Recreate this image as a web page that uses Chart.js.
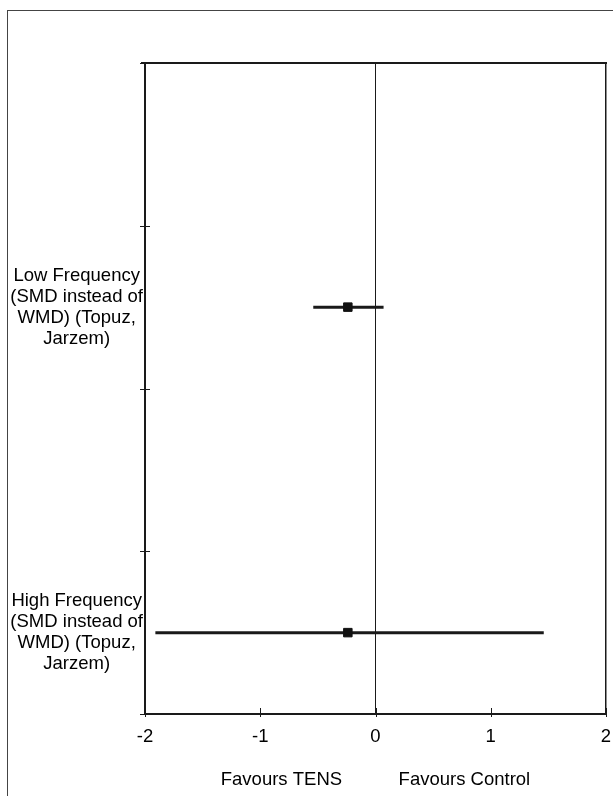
<!DOCTYPE html>
<html>
<head>
<meta charset="utf-8">
<script src="https://cdn.jsdelivr.net/npm/chart.js@4.4.1/dist/chart.umd.min.js"></script>
<style>
  html, body { margin: 0; padding: 0; background: #fff; }
  #wrap { position: relative; width: 613px; height: 796px; overflow: hidden; }
  #frame { position: absolute; left: 7px; top: 10px; width: 700px; height: 900px; border: 1px solid #444; box-sizing: border-box; }
  canvas { position: absolute; left: 0; top: 0; }
</style>
</head>
<body>
<div id="wrap">
  <div id="frame"></div>
  <canvas id="c" width="613" height="796"></canvas>
</div>
<script>
// ---- data ----
const categories = [
  ['Low Frequency', '(SMD instead of', 'WMD) (Topuz,', 'Jarzem)'],
  ['High Frequency', '(SMD instead of', 'WMD) (Topuz,', 'Jarzem)']
];
const rowPos = [2.5, 0.5];
const estimates = [-0.24, -0.24];
const lower = [-0.54, -1.91];
const upper = [0.07, 1.46];
const xTickValues = [-2, -1, 0, 1, 2];
const yTickMarks = [0, 1, 2, 3, 4];
const xTitle = 'Favours TENS           Favours Control';

const FONT = "'Liberation Sans', Arial, sans-serif";

const ciDatasets = categories.map((c, i) => ({
  type: 'scatter',
  data: [{x: lower[i], y: rowPos[i]}, {x: upper[i], y: rowPos[i]}],
  showLine: true,
  borderColor: '#1a1a1a',
  borderWidth: 3,
  pointRadius: 0,
  order: 2
}));

const pointDataset = {
  type: 'scatter',
  data: estimates.map((e, i) => ({x: e, y: rowPos[i]})),
  pointStyle: 'rect',
  pointRadius: 6,
  backgroundColor: '#111',
  borderColor: '#111',
  borderWidth: 1,
  order: 1
};

const framePlugin = {
  id: 'framePlugin',
  afterDraw(chart) {
    const {ctx, chartArea: a, scales} = chart;
    ctx.save();
    ctx.strokeStyle = '#1a1a1a';
    // top frame line
    ctx.lineWidth = 2;
    ctx.beginPath();
    ctx.moveTo(a.left - 4, a.top);
    ctx.lineTo(a.right + 1, a.top);
    ctx.stroke();
    // y tick marks (cross)
    ctx.lineWidth = 1;
    yTickMarks.forEach(v => {
      const y = Math.round(scales.y.getPixelForValue(v)) + 0.5;
      ctx.beginPath();
      ctx.moveTo(a.left - 5, y);
      ctx.lineTo(a.left + 5, y);
      ctx.stroke();
    });
    // x tick marks (cross)
    xTickValues.forEach(v => {
      const x = Math.round(scales.x.getPixelForValue(v)) + 0.5;
      ctx.beginPath();
      ctx.moveTo(x, a.bottom - 6);
      ctx.lineTo(x, a.bottom + 3);
      ctx.stroke();
    });
    ctx.restore();
  }
};

new Chart(document.getElementById('c'), {
  type: 'scatter',
  data: { datasets: [...ciDatasets, pointDataset] },
  options: {
    responsive: false,
    animation: false,
    layout: { padding: { top: 63, right: 6, left: 0, bottom: 0 } },
    plugins: { legend: { display: false }, tooltip: { enabled: false } },
    scales: {
      x: {
        type: 'linear',
        min: -2, max: 2,
        afterBuildTicks: s => { s.ticks = xTickValues.map(v => ({value: v})); },
        afterFit: s => { s.height = 82; s.paddingRight = 0; s.paddingLeft = 0; },
        grid: {
          drawTicks: false,
          drawOnChartArea: true,
          color: c => (c.tick && (c.tick.value === 0 || c.tick.value === 2)) ? '#1a1a1a' : 'rgba(0,0,0,0)',
          lineWidth: c => (c.tick && c.tick.value === 2) ? 1.5 : 1
        },
        border: { display: true, color: '#1a1a1a', width: 2 },
        ticks: { color: '#000', font: { family: FONT, size: 18.5 }, padding: 12 },
        title: { display: true, text: xTitle, color: '#000', font: { family: FONT, size: 18.5 }, padding: { top: 0, bottom: 5 } }
      },
      y: {
        type: 'linear',
        min: 0, max: 4,
        afterBuildTicks: s => { s.ticks = rowPos.map(v => ({value: v})); },
        afterFit: s => { s.width = 145; s.paddingTop = 0; s.paddingBottom = 0; },
        grid: { display: false, drawTicks: false },
        border: { display: true, color: '#1a1a1a', width: 2 },
        ticks: {
          color: '#000',
          font: { family: FONT, size: 18.5, lineHeight: 1.13 },
          padding: 2,
          crossAlign: 'center',
          callback: v => { const i = rowPos.indexOf(v); return i >= 0 ? categories[i] : ''; }
        }
      }
    }
  },
  plugins: [framePlugin]
});
</script>
</body>
</html>
